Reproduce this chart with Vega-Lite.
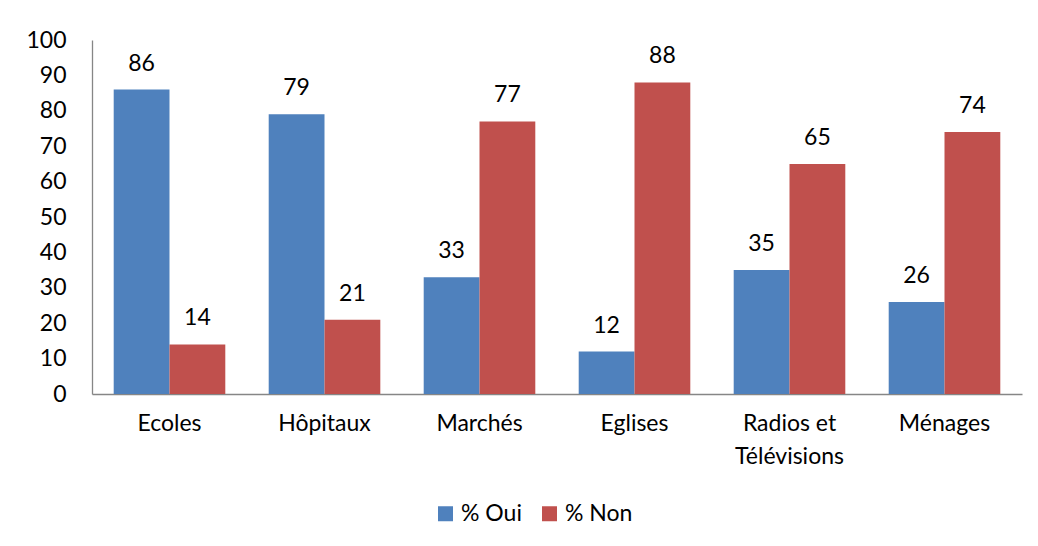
{
  "$schema": "https://vega.github.io/schema/vega-lite/v6.json",
  "autosize": {"type": "none"},
  "width": 930,
  "height": 354,
  "padding": {"left": 92, "top": 40, "right": 16, "bottom": 152},
  "background": "white",
  "config": {
    "view": {"stroke": null},
    "font": "Lato",
    "axis": {"labelFont": "Lato", "labelFontSize": 23, "labelColor": "#000000", "grid": false, "ticks": false, "domainColor": "#868686", "domainWidth": 1.3},
    "legend": {"labelFont": "Lato", "labelFontSize": 23, "labelColor": "#000000"}
  },
  "data": {
    "values": [
      {"cat": "Ecoles", "serie": "% Oui", "val": 86},
      {"cat": "Ecoles", "serie": "% Non", "val": 14},
      {"cat": "Hôpitaux", "serie": "% Oui", "val": 79},
      {"cat": "Hôpitaux", "serie": "% Non", "val": 21},
      {"cat": "Marchés", "serie": "% Oui", "val": 33},
      {"cat": "Marchés", "serie": "% Non", "val": 77},
      {"cat": "Eglises", "serie": "% Oui", "val": 12},
      {"cat": "Eglises", "serie": "% Non", "val": 88},
      {"cat": "Radios et Télévisions", "serie": "% Oui", "val": 35},
      {"cat": "Radios et Télévisions", "serie": "% Non", "val": 65},
      {"cat": "Ménages", "serie": "% Oui", "val": 26},
      {"cat": "Ménages", "serie": "% Non", "val": 74}
    ]
  },
  "encoding": {
    "x": {
      "field": "cat", "type": "nominal", "sort": null, "title": null,
      "scale": {"paddingInner": 0.28, "paddingOuter": 0.14},
      "axis": {"labelAngle": 0, "labelPadding": 18, "labelLineHeight": 33, "labelBaseline": "top",
        "labelExpr": "datum.label == 'Radios et Télévisions' ? ['Radios et', 'Télévisions'] : datum.label"}
    },
    "xOffset": {"field": "serie", "type": "nominal", "sort": ["% Oui", "% Non"]},
    "y": {
      "field": "val", "type": "quantitative", "title": null,
      "scale": {"domain": [0, 100], "nice": false},
      "axis": {"values": [0, 10, 20, 30, 40, 50, 60, 70, 80, 90, 100], "labelPadding": 26}
    }
  },
  "layer": [
    {
      "mark": {"type": "bar"},
      "encoding": {
        "color": {
          "field": "serie", "type": "nominal", "sort": ["% Oui", "% Non"],
          "scale": {"domain": ["% Oui", "% Non"], "range": ["#4F81BD", "#C0504D"]},
          "legend": {"title": null, "orient": "none", "direction": "horizontal", "legendX": 342, "legendY": 462,
            "symbolType": "square", "symbolSize": 225, "columnPadding": 16, "labelOffset": 4}
        }
      }
    },
    {
      "mark": {"type": "text", "baseline": "bottom", "dy": -14, "fontSize": 23, "font": "Lato", "color": "#000000"},
      "encoding": {"text": {"field": "val", "type": "quantitative"}}
    }
  ]
}
